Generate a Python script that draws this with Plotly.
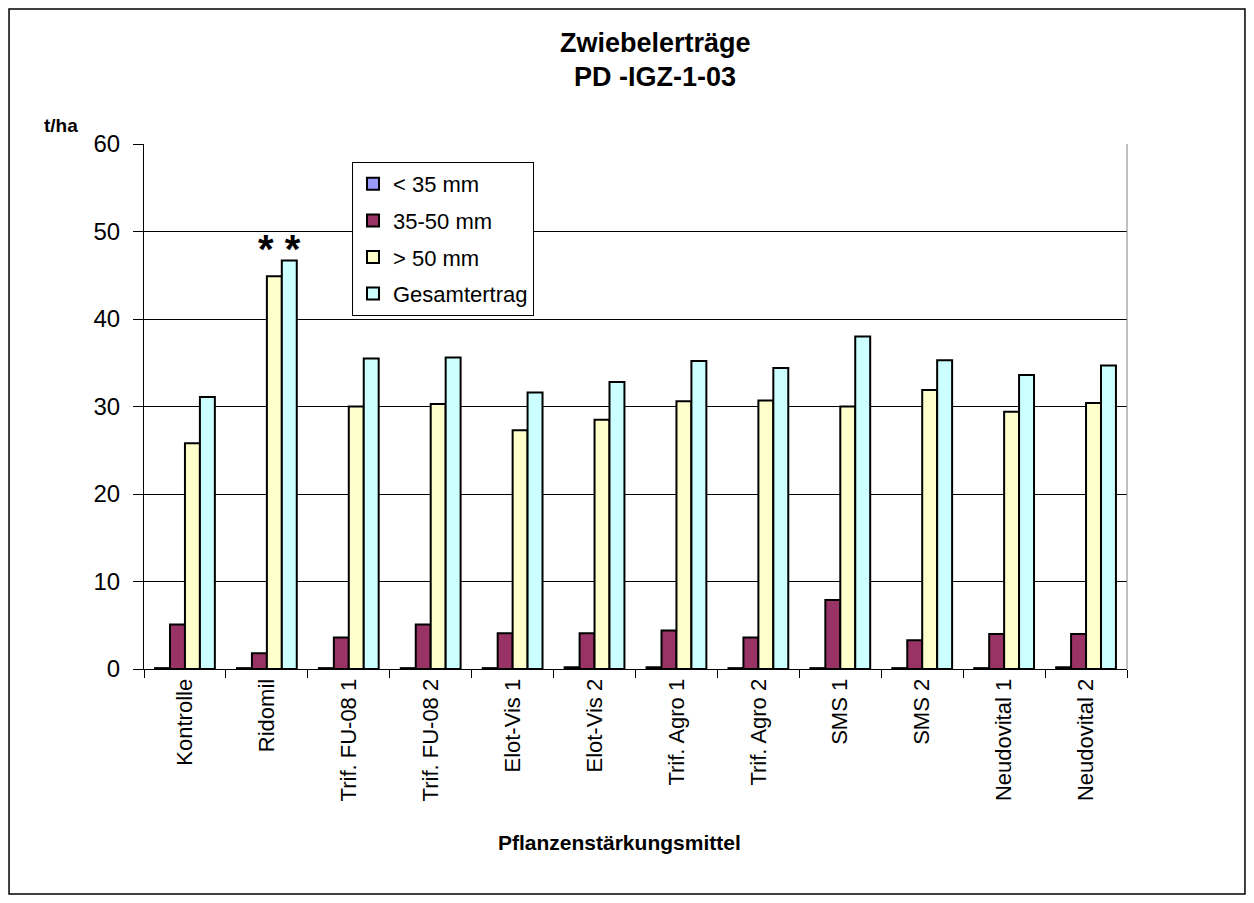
import plotly.graph_objects as go

# Onion yields per treatment, t/ha
treatments = ["Kontrolle", "Ridomil", "Trif. FU-08 1", "Trif. FU-08 2", "Elot-Vis 1", "Elot-Vis 2",
              "Trif. Agro 1", "Trif. Agro 2", "SMS 1", "SMS 2", "Neudovital 1", "Neudovital 2"]
under_35 = [0.1, 0.1, 0.1, 0.1, 0.1, 0.2, 0.2, 0.1, 0.1, 0.1, 0.1, 0.2]
mm_35_50 = [5.1, 1.8, 3.6, 5.1, 4.1, 4.1, 4.4, 3.6, 7.9, 3.3, 4.0, 4.0]
over_50 = [25.8, 44.9, 30.0, 30.3, 27.3, 28.5, 30.6, 30.7, 30.0, 31.9, 29.4, 30.4]
gesamt = [31.1, 46.7, 35.5, 35.6, 31.6, 32.8, 35.2, 34.4, 38.0, 35.3, 33.6, 34.7]

series = [
    ("< 35 mm", under_35, "#9999FF"),
    ("35-50 mm", mm_35_50, "#993366"),
    ("> 50 mm", over_50, "#FFFFCC"),
    ("Gesamtertrag", gesamt, "#CCFFFF"),
]

FONT = "Liberation Sans, Arial, sans-serif"

fig = go.Figure()
for name, vals, color in series:
    fig.add_trace(go.Bar(
        x=treatments, y=vals, name=name, legendgroup=name,
        marker=dict(color=color, line=dict(color="black", width=2)),
    ))

# page body has an 8px margin, so the figure is a bit smaller than the window
fig.update_layout(
    width=1238, height=887,
    margin=dict(l=136, r=119, t=136, b=226),
    paper_bgcolor="white", plot_bgcolor="white",
    font=dict(family=FONT, color="black"),
    barmode="group", bargap=0.27, bargroupgap=0,
    showlegend=True,
    legend=dict(
        x=0.2116, y=0.9657, xanchor="left", yanchor="top",
        bgcolor="white", bordercolor="black", borderwidth=1,
        font=dict(size=22, family=FONT), traceorder="grouped", tracegroupgap=5,
    ),
)

fig.update_xaxes(
    showline=True, linecolor="black", linewidth=1,
    ticks="outside", tickson="boundaries", ticklen=8, tickcolor="black",
    tickangle=-90, tickfont=dict(size=22),
    showgrid=False,
)
fig.update_yaxes(
    range=[0, 60], dtick=10,
    showline=True, linecolor="black", linewidth=1,
    ticks="outside", ticklen=10, tickcolor="black",
    tickfont=dict(size=24), ticklabelstandoff=8,
    showgrid=True, gridcolor="black", gridwidth=1,
    zeroline=False,
)

# title, axis titles and marker for significance
txt = dict(xref="paper", yref="paper", showarrow=False, xanchor="center", yanchor="middle")
fig.add_annotation(text="<b>Zwiebelerträge</b>", x=0.52, y=1.192, font=dict(size=27), **txt)
fig.add_annotation(text="<b>PD -IGZ-1-03</b>", x=0.52, y=1.128, font=dict(size=27), **txt)
fig.add_annotation(text="<b>t/ha</b>", x=-0.0844, y=1.036, font=dict(size=19), **txt)
fig.add_annotation(text="<b>Pflanzenstärkungsmittel</b>", x=0.484, y=-0.331, font=dict(size=21), **txt)
fig.add_annotation(text="<b>* *</b>", x="Ridomil", y=gesamt[1], yanchor="bottom", xshift=13, yshift=-13,
                   showarrow=False, font=dict(size=40))

# plot area right edge and outer chart frame
fig.add_shape(type="line", xref="paper", yref="paper", x0=1, x1=1, y0=0, y1=1,
              line=dict(color="#808080", width=1))
fig.add_shape(type="rect", xref="paper", yref="paper", x0=-0.1373, x1=1.12, y0=-0.4286, y1=1.257,
              line=dict(color="black", width=1.5))

fig.write_html("out.html")
